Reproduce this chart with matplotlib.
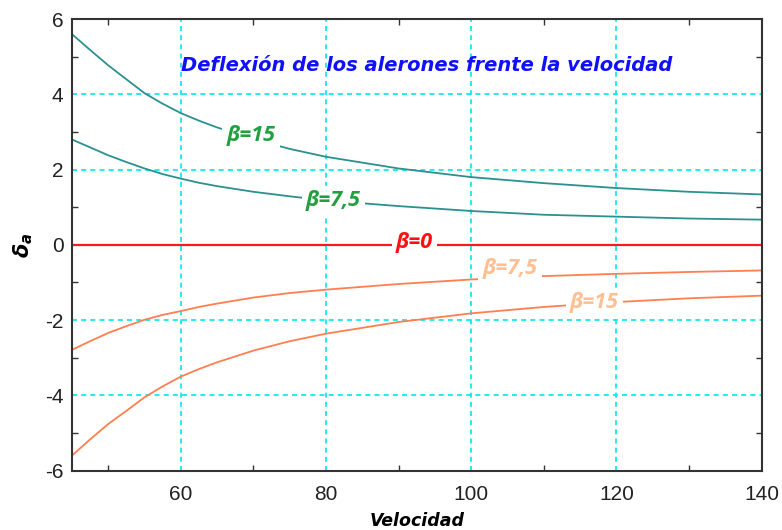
import matplotlib
matplotlib.use('Agg')
import matplotlib.pyplot as plt
from matplotlib.ticker import MultipleLocator, FuncFormatter

# valores
velocidad = [45, 47.5, 50, 52.5, 55, 57.5, 60, 62.5, 65, 70, 75, 80, 90, 100, 110, 120, 130, 140]
beta15_pos = [5.60, 5.18, 4.77, 4.40, 4.03, 3.75, 3.50, 3.30, 3.12, 2.81, 2.55, 2.34, 2.03, 1.80, 1.64, 1.51, 1.41, 1.34]
beta75_pos = [2.80, 2.59, 2.38, 2.20, 2.03, 1.88, 1.76, 1.65, 1.56, 1.41, 1.29, 1.18, 1.03, 0.90, 0.80, 0.75, 0.70, 0.67]
beta75_neg = [-2.79, -2.56, -2.34, -2.16, -1.99, -1.86, -1.76, -1.65, -1.56, -1.40, -1.28, -1.19, -1.04, -0.92, -0.83, -0.77, -0.72, -0.68]
beta15_neg = [-5.60, -5.17, -4.76, -4.41, -4.05, -3.76, -3.50, -3.30, -3.12, -2.81, -2.56, -2.36, -2.05, -1.82, -1.65, -1.52, -1.42, -1.35]
beta0 = [0.0] * len(velocidad)

# etiquetas de las curvas: (texto, x, y, color)
etiquetas = [
    ('β=15', 69.7, 2.91, '#22a040'),
    ('β=7,5', 81.0, 1.18, '#22a040'),
    ('β=0', 92.2, 0.05, '#ff1010'),
    ('β=7,5', 105.3, -0.63, '#ffbf90'),
    ('β=15', 117.0, -1.54, '#ffbf90'),
]

fig = plt.figure(figsize=(7.82, 5.30), dpi=100)
ax = fig.add_axes([0.092, 0.112, 0.882, 0.852])

teal = '#2a9090'
coral = '#ff7f50'
ax.plot(velocidad, beta15_pos, color=teal, lw=1.3)
ax.plot(velocidad, beta75_pos, color=teal, lw=1.3)
ax.plot(velocidad, beta0, color='#ff1a1a', lw=1.6)
ax.plot(velocidad, beta75_neg, color=coral, lw=1.3)
ax.plot(velocidad, beta15_neg, color=coral, lw=1.3)

for txt, x, y, c in etiquetas:
    ax.text(x, y, txt, color=c, fontsize=15.5, fontweight='bold', fontstyle='italic',
            family=['Open Sans', 'DejaVu Sans'], ha='center', va='center', zorder=4,
            bbox=dict(boxstyle='square,pad=0.2', facecolor='white', edgecolor='none'))

ax.text(93.8, 4.77, 'Deflexión de los alerones frente la velocidad', color='#1010ff',
        fontsize=14, fontweight='bold', fontstyle='italic', ha='center', va='center')

ax.set_xlim(45, 140)
ax.set_ylim(-6, 6)
ax.xaxis.set_major_locator(MultipleLocator(20))
ax.xaxis.set_minor_locator(MultipleLocator(10))
ax.yaxis.set_major_locator(MultipleLocator(2))
ax.yaxis.set_minor_locator(MultipleLocator(1))
ax.yaxis.set_major_formatter(FuncFormatter(lambda v, p: '%d' % v))

ax.set_axisbelow(True)
ax.grid(True, which='major', color='#00e8f0', linestyle=(0, (3, 2.5)), lw=1.2)

ax.tick_params(which='both', direction='in', top=True, right=True, color='#333333')
ax.tick_params(which='major', length=0, labelsize=15, labelcolor='#222222')
ax.tick_params(axis='x', which='major', pad=10)
ax.tick_params(axis='y', which='major', pad=6)
ax.tick_params(which='minor', length=4, width=1)
for lab in ax.get_xticklabels() + ax.get_yticklabels():
    lab.set_family('Liberation Sans')

for s in ax.spines.values():
    s.set_color('#333333')
    s.set_linewidth(1.5)

ax.set_xlabel('Velocidad', fontsize=12.5, fontweight='bold', fontstyle='italic', labelpad=6)
ax.set_ylabel(r'$\boldsymbol{\delta}_{\boldsymbol{a}}$', fontsize=15, labelpad=7)

plt.savefig('out.png', dpi=100)
